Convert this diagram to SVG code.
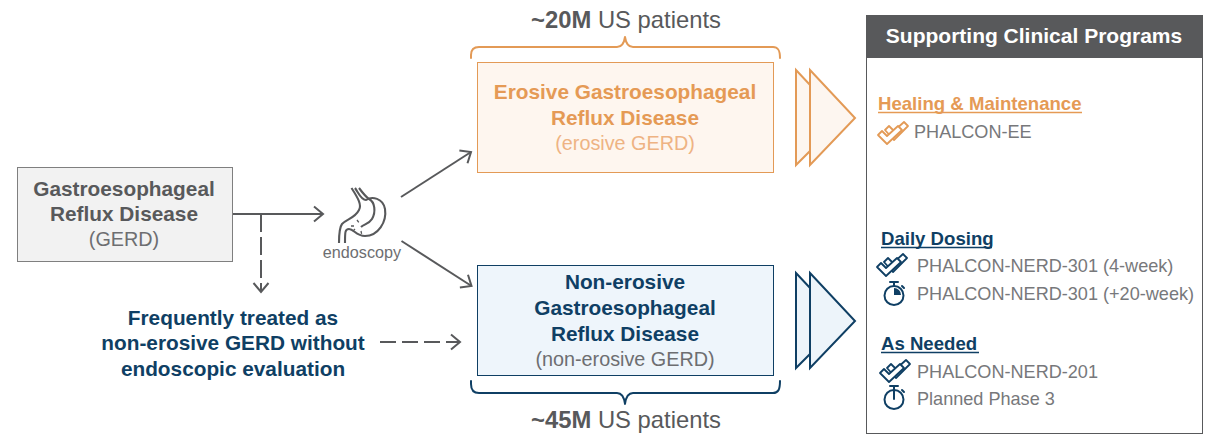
<svg xmlns="http://www.w3.org/2000/svg" width="1211" height="447" viewBox="0 0 1211 447">
<style>
text{font-family:"Liberation Sans",Arial,sans-serif}
.b{font-weight:700}
.gd{fill:#58595b}
.g{fill:#6d6e71}
.n{fill:#0f3f64}
.o{fill:#e59a55}
.c{font-size:20.800px;text-anchor:middle}
.s{font-size:19.800px}
.p{font-size:18.100px;fill:#77787b}
.h{font-size:18.600px;font-weight:700}
.pat{font-size:23.800px;text-anchor:middle;fill:#58595b}
.line{fill:none;stroke:#58595b;stroke-width:2}
.co{fill:none;stroke:#e39a56;stroke-width:2;stroke-linejoin:round;stroke-linecap:round}
.cn{fill:none;stroke:#0f3f64;stroke-width:2;stroke-linejoin:round;stroke-linecap:round}
</style>
<defs>
<marker id="a" markerUnits="userSpaceOnUse" markerWidth="14" markerHeight="18" refX="11" refY="9" orient="auto"><path d="M2 1.500 11 9 2 16.500" fill="none" stroke="#58595b" stroke-width="2"/></marker>
<g id="chk"><path d="M-8-4-4-8 1-3 11-12 15-8 1 6Z"/><path fill="#fff" d="M-15 1-11-3-6 2 5-8 9-4-6 10Z"/></g>
<g id="watch"><circle cx="0" cy="2.500" r="9.500"/><path d="M-4-11H4M0-11V-7M8-7 10-5"/></g>
</defs>
<g id="connectors">
<path class="line" marker-end="url(#a)" d="M233 214H323"/>
<path class="line" stroke-dasharray="18 5" marker-end="url(#a)" d="M261 214V292"/>
<path class="line" marker-end="url(#a)" d="M401 197 471 152"/>
<path class="line" marker-end="url(#a)" d="M401.500 241 471.500 286"/>
<path class="line" stroke-dasharray="16 6" marker-end="url(#a)" d="M380 342H460"/>
</g>
<g id="gerd">
<rect x="17.500" y="167.500" width="215" height="94" fill="#f2f2f2" stroke="#7f7f7f" stroke-width="1"/>
<text class="c b gd" x="124" y="196">Gastroesophageal</text>
<text class="c b gd" x="124" y="221">Reflux Disease</text>
<text class="c s g" x="124" y="246">(GERD)</text>
</g>
<g id="endoscopy">
<g fill="none" stroke="#58595b" stroke-width="2.100">
<path d="M351.500 188C358 198 362 205 359 210 355 218 347 219 342 224 339 228 339 236 339 243"/>
<path d="M345 243C345 232 345 229 349 229 354 229 356 236 365 236 378 236 387 222 385 209 383 198 372 196 366 200 361 200 358 192 355 188"/>
<path d="M359 188C362 192 366 197 369 199 375 202 376 212 372 219 369 224 364 224 361 227"/>
<path stroke-width="1.300" stroke-dasharray="3 3" d="M357 220 360 224M351 226H356M361 231 362 236M355 229 351 233"/>
</g>
<text x="362" y="258" text-anchor="middle" class="g" style="font-size:16.200px">endoscopy</text>
</g>
<g id="frequently">
<text class="c b n" x="233" y="325">Frequently treated as</text>
<text class="c b n" x="233" y="350">non-erosive GERD without</text>
<text class="c b n" x="233" y="376">endoscopic evaluation</text>
</g>
<g id="erosive">
<rect x="477.500" y="62.500" width="296" height="110" fill="#fef6ef" stroke="#e39a56" stroke-width="1"/>
<text class="c b o" x="625" y="99">Erosive Gastroesophageal</text>
<text class="c b o" x="625" y="125">Reflux Disease</text>
<text class="c s" x="625" y="150" style="fill:#eeb383">(erosive GERD)</text>
</g>
<g id="non-erosive">
<rect x="477.500" y="265.500" width="296" height="110" fill="#eef5fb" stroke="#0f3f64" stroke-width="1"/>
<text class="c b n" x="625" y="289">Non-erosive</text>
<text class="c b n" x="625" y="315">Gastroesophageal</text>
<text class="c b n" x="625" y="341">Reflux Disease</text>
<text class="c s g" x="625" y="366">(non-erosive GERD)</text>
</g>
<g id="patients-20m">
<path class="co" d="M471 58V55C471 50 474 47 479 47H617C621 47 624 44 625 37 626 44 629 47 633 47H773C778 47 780 50 780 58"/>
<text class="pat" x="626" y="28"><tspan class="b">~20M</tspan> US patients</text>
</g>
<g id="patients-45m">
<path class="cn" d="M471 381V384C471 390 474 393 479 393H617C621 393 624 396 625 404 626 396 629 393 633 393H773C778 393 780 390 780 381"/>
<text class="pat" x="626" y="428"><tspan class="b">~45M</tspan> US patients</text>
</g>
<g id="chevrons-orange" fill="#fdf6f0" stroke="#e39a56" stroke-width="2">
<path d="M796 70 842 119 796 165Z"/><path d="M810 70 855 118 810 165Z"/>
</g>
<g id="chevrons-blue" fill="#edf4fa" stroke="#0f3f64" stroke-width="2">
<path d="M796 273 842 322 796 368Z"/><path d="M810 273 855 321 810 368Z"/>
</g>
<g id="programs">
<rect x="866.500" y="15.500" width="336" height="418" fill="#fff" stroke="#58595b" stroke-width="1"/>
<rect x="866" y="15" width="337" height="43" fill="#58595b"/>
<text x="1034" y="43" text-anchor="middle" class="b" style="font-size:21px;fill:#fff">Supporting Clinical Programs</text>
<text class="h o" x="878" y="110">Healing &amp; Maintenance</text>
<path d="M878 112.500H1082" stroke="#e59a55" stroke-width="1.500"/>
<use href="#chk" x="893" y="134" class="co" style="stroke-width:1.800"/>
<text class="p" x="914" y="138">PHALCON-EE</text>
<text class="h n" x="881" y="245">Daily Dosing</text>
<path d="M881 247.500H992" stroke="#0f3f64" stroke-width="1.500"/>
<use href="#chk" x="892" y="266" class="cn" style="stroke-width:1.800"/>
<text class="p" x="917" y="272">PHALCON-NERD-301 (4-week)</text>
<use href="#watch" x="894" y="293" class="cn"/>
<path d="M894 295V288A7 7 0 0 1 901 295Z" fill="#0f3f64"/>
<text class="p" x="917" y="300">PHALCON-NERD-301 (+20-week)</text>
<text class="h n" x="881" y="350">As Needed</text>
<path d="M881 352.500H979" stroke="#0f3f64" stroke-width="1.500"/>
<use href="#chk" x="895" y="372" class="cn" style="stroke-width:1.800"/>
<text class="p" x="917" y="378">PHALCON-NERD-201</text>
<use href="#watch" x="894" y="397" class="cn"/>
<path d="M894 399V391" class="cn"/>
<text class="p" x="917" y="405">Planned Phase 3</text>
</g>
</svg>
